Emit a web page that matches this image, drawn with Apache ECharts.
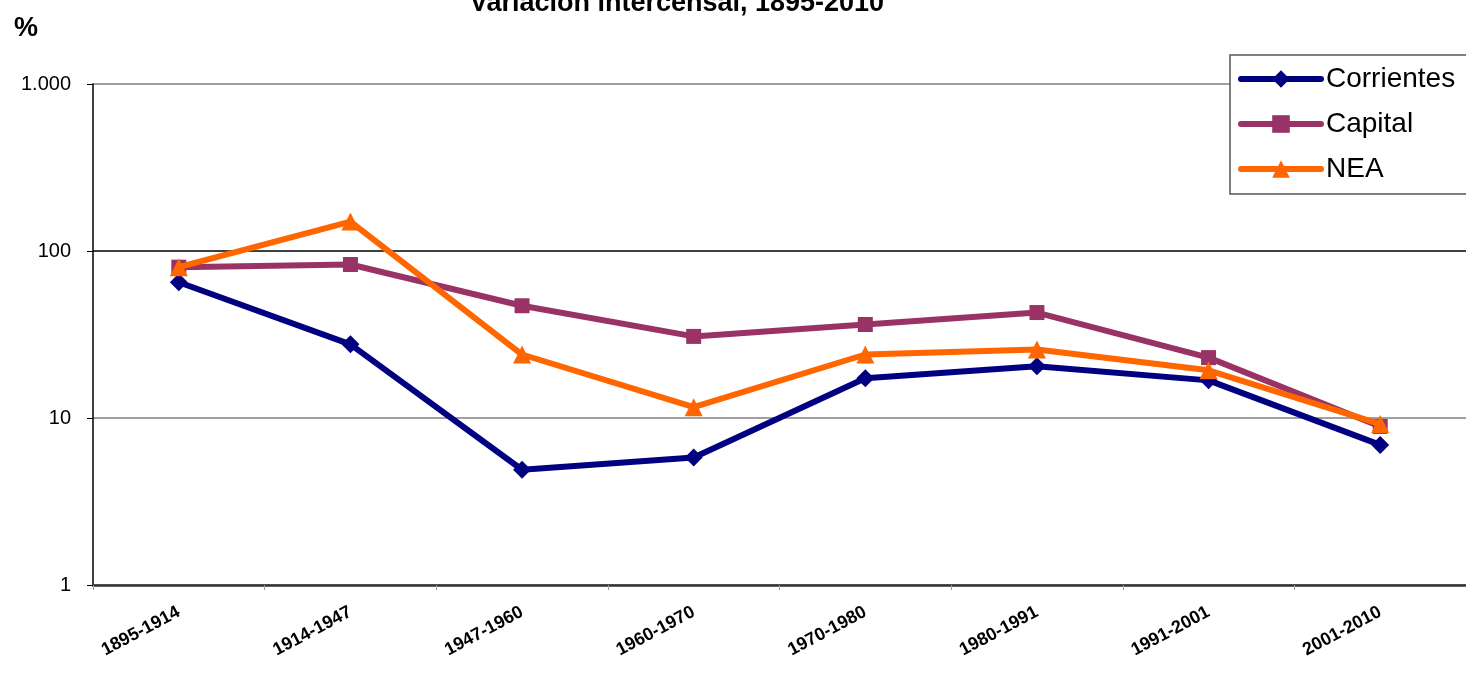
<!DOCTYPE html>
<html>
<head>
<meta charset="utf-8">
<script src="https://cdn.jsdelivr.net/npm/echarts@6/dist/echarts.min.js"></script>
<style>
html,body{margin:0;padding:0;background:#fff;}
#chart{width:1466px;height:674px;}
</style>
</head>
<body>
<div id="chart"></div>
<script>
const categories = ['1895-1914','1914-1947','1947-1960','1960-1970','1970-1980','1980-1991','1991-2001','2001-2010'];
const corrientes = [65, 27.6, 4.9, 5.8, 17.3, 20.4, 16.8, 6.9];
const capital = [80, 83, 47, 30.8, 36.3, 42.8, 23, 8.9];
const nea = [80, 150, 24, 11.6, 24, 25.7, 19.3, 9.2];
const yTicks = [1, 10, 100, 1000];

const chart = echarts.init(document.getElementById('chart'));
const font = 'Arial, "Liberation Sans", sans-serif';
chart.setOption({
  animation: false,
  backgroundColor: '#fff',
  title: {
    text: 'Variación intercensal, 1895-2010',
    left: 672, top: -15, textAlign: 'center',
    textStyle: {fontFamily: font, fontSize: 27, fontWeight: 'bold', color: '#000'}
  },
  graphic: [{
    type: 'text', left: 14, top: 15,
    style: {text: '%', fontFamily: font, fontSize: 27, fontWeight: 'bold', fill: '#000'}
  }],
  legend: {
    orient: 'vertical',
    left: 1230, top: 55,
    padding: [10, 40, 11, 8],
    itemWidth: 80, itemHeight: 22, itemGap: 17,
    borderColor: '#555', borderWidth: 1.5,
    backgroundColor: '#fff',
    lineStyle: {width: 6, cap: 'round'},
    textStyle: {fontFamily: font, fontSize: 28, color: '#000'},
    data: ['Corrientes', 'Capital', 'NEA']
  },
  grid: {left: 93, top: 84, right: 0, bottom: 89, containLabel: false},
  xAxis: {
    type: 'category',
    data: categories,
    boundaryGap: true,
    axisLine: {lineStyle: {color: '#333', width: 2.5}},
    axisTick: {show: true, length: 5, lineStyle: {color: '#999'}},
    axisLabel: {rotate: 28, margin: 26, fontFamily: font, fontSize: 18, fontWeight: 'bold', color: '#000', interval: 0}
  },
  yAxis: {
    type: 'log', logBase: 10, min: 1, max: 1000,
    axisLine: {show: true, lineStyle: {color: '#000', width: 1.5}},
    axisTick: {show: true, length: 6, lineStyle: {color: '#000'}},
    axisLabel: {
      margin: 22, fontFamily: font, fontSize: 20, color: '#000',
      formatter: v => yTicks.includes(v) ? String(v).replace(/\B(?=(\d{3})+(?!\d))/g, '.') : ''
    },
    splitLine: {show: true, lineStyle: {color: ['#808080', '#808080', '#000', '#808080'], width: 1.5}}
  },
  series: [
    {name: 'Corrientes', type: 'line', data: corrientes, symbol: 'diamond', symbolSize: 18,
     lineStyle: {color: '#000080', width: 6}, itemStyle: {color: '#000080'}, z: 3},
    {name: 'Capital', type: 'line', data: capital, symbol: 'rect', symbolSize: 15,
     lineStyle: {color: '#993366', width: 6}, itemStyle: {color: '#993366'}, z: 4},
    {name: 'NEA', type: 'line', data: nea, symbol: 'triangle', symbolSize: 18,
     lineStyle: {color: '#FF6600', width: 6}, itemStyle: {color: '#FF6600'}, z: 5}
  ]
});
</script>
</body>
</html>
